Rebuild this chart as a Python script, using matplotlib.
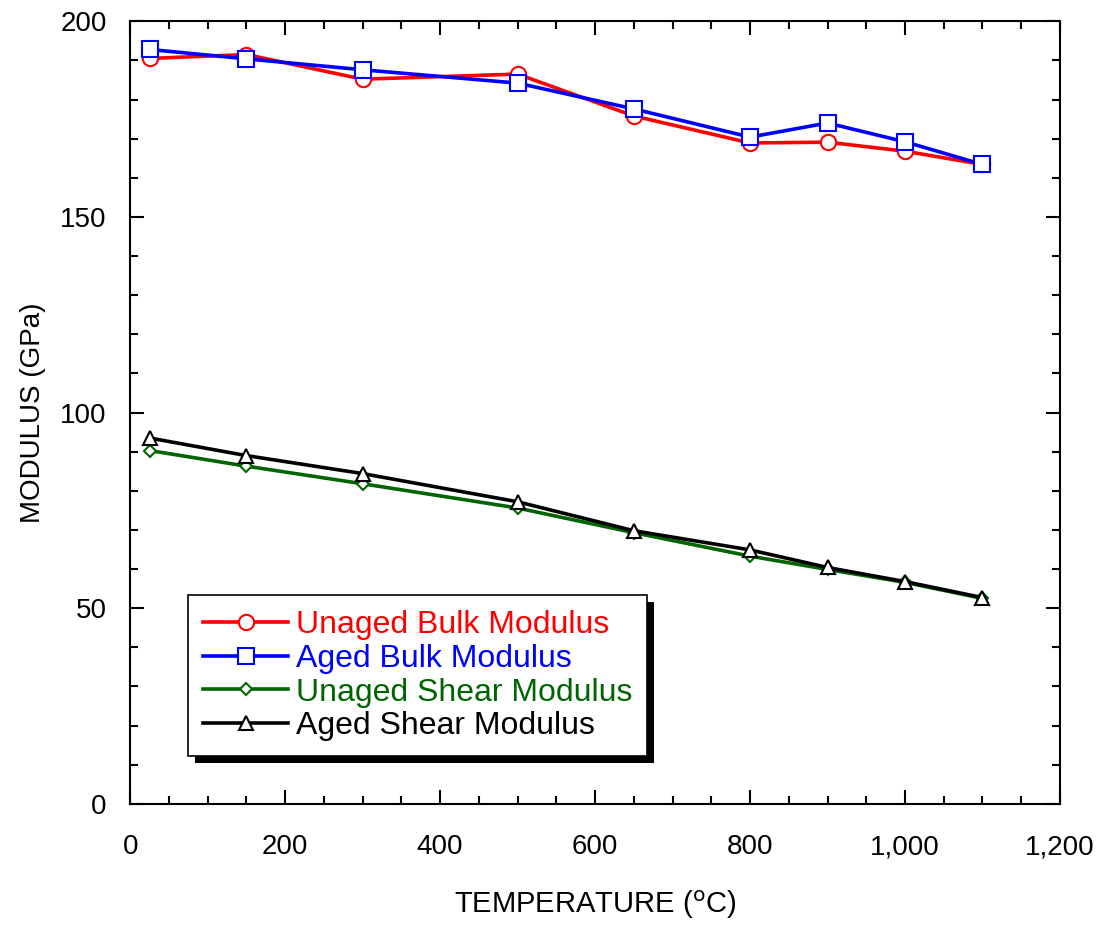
import matplotlib
matplotlib.use("Agg")
import matplotlib.pyplot as plt
from matplotlib.ticker import MultipleLocator, FuncFormatter
from matplotlib.patches import Rectangle
from matplotlib.transforms import IdentityTransform

plt.rcParams['font.family'] = ['Liberation Sans', 'DejaVu Sans']

temps = [25, 150, 300, 500, 650, 800, 900, 1000, 1100]
unaged_bulk = [190.5, 191.5, 185.2, 186.5, 175.8, 168.9, 169.1, 166.8, 163.4]
aged_bulk = [192.8, 190.4, 187.6, 184.2, 177.6, 170.4, 174.0, 169.2, 163.4]
unaged_shear = [90.3, 86.3, 81.8, 75.6, 69.3, 63.3, 59.9, 56.6, 52.5]
aged_shear = [93.5, 89.0, 84.4, 77.2, 69.8, 64.9, 60.4, 56.8, 52.7]

series = [
    ("Unaged Bulk Modulus", unaged_bulk, "#ff0000", "o", 11),
    ("Aged Bulk Modulus", aged_bulk, "#0000ff", "s", 12),
    ("Unaged Shear Modulus", unaged_shear, "#006400", "D", 6),
    ("Aged Shear Modulus", aged_shear, "#000000", "^", 10),
]

fig = plt.figure(figsize=(11.03, 9.25), dpi=100)
ax = fig.add_axes([0.118, 0.131, 0.843, 0.846])

for label, vals, col, mk, ms in series:
    ax.plot(temps, vals, color=col, linewidth=2.6, marker=mk, markersize=ms,
            markerfacecolor="white", markeredgecolor=col, markeredgewidth=1.5,
            label=label)

ax.set_xlim(0, 1200)
ax.set_ylim(0, 200)
ax.xaxis.set_major_locator(MultipleLocator(200))
ax.xaxis.set_minor_locator(MultipleLocator(50))
ax.yaxis.set_major_locator(MultipleLocator(50))
ax.yaxis.set_minor_locator(MultipleLocator(10))
ax.xaxis.set_major_formatter(FuncFormatter(lambda v, p: f"{int(v):,}"))
ax.tick_params(which="both", direction="in", top=True, right=True, width=1.5,
               labelsize=20)
ax.tick_params(axis="x", pad=22)
ax.tick_params(axis="y", pad=17)
ax.tick_params(which="major", length=10)
ax.tick_params(which="minor", length=6)
for s in ax.spines.values():
    s.set_linewidth(1.5)

ax.set_xlabel("TEMPERATURE ($^{\\mathrm{o}}$C)", fontsize=21, labelpad=20)
ax.set_ylabel("MODULUS (GPa)", fontsize=20, labelpad=10)

leg = ax.legend(loc="upper left", bbox_to_anchor=(0.0624, 0.267),
                bbox_transform=ax.transAxes, borderaxespad=0, fontsize=23,
                frameon=True, fancybox=False, edgecolor="black",
                handlelength=2.65, handletextpad=0.25, labelspacing=0.12,
                borderpad=0.47, framealpha=1)
leg.get_frame().set_linewidth(1.2)
leg.set_zorder(5)
for txt, (label, vals, col, mk, ms) in zip(leg.get_texts(), series):
    txt.set_color(col)

fig.canvas.draw()
bb = leg.get_window_extent()
shadow = Rectangle((bb.x0 + 7, bb.y0 - 7), bb.width, bb.height,
                   transform=IdentityTransform(), facecolor="black",
                   edgecolor="none", zorder=4, clip_on=False)
ax.add_artist(shadow)

fig.savefig("out.png", dpi=100)
